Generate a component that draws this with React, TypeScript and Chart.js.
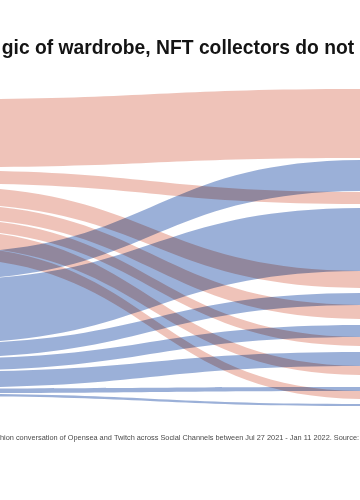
import React, { useEffect, useRef } from 'react';
import { Chart, registerables } from 'chart.js';

Chart.register(...registerables);

const TITLE = 'gic of wardrobe, NFT collectors do not';
const FOOTNOTE =
  'hion conversation of Opensea and Twitch across Social Channels between Jul 27 2021 - Jan 11 2022. Source:';

// Each link: source channel, stacked extent at the left node and at the right node (volume units)
const linkSource = [
  'Opensea', 'Opensea', 'Opensea', 'Opensea', 'Opensea', 'Opensea', 'Opensea',
  'Twitch', 'Twitch', 'Twitch', 'Twitch', 'Twitch', 'Twitch', 'Twitch',
];
const leftTop = [19.3, 90.3, 106.5, 124, 138.4, 149.9, 166, 172.8, 199.6, 263.5, 278.5, 291.6, 308.5, 313.7];
const leftBottom = [87.3, 103.4, 123.5, 138, 149.5, 166, 177.8, 199.7, 263.2, 277.6, 290.5, 307.6, 313.1, 316.2];
const rightTop = [9, 112, 191, 225, 257, 286, 311, 80, 128, 213, 245, 272, 307, 324];
const rightBottom = [78, 124, 208, 239, 266, 295, 319, 111, 191, 225, 257, 286, 311, 326];

// left / right node positions on the horizontal (flow) axis
const nodeX = [-0.1667, 1.0139];

const sourceColors: Record<string, string> = {
  Opensea: 'rgb(239,195,185)',
  Twitch: 'rgb(155,176,216)',
};

const ribbonPlugin = {
  id: 'ribbons',
  beforeDraw(chart: any) {
    const { ctx } = chart;
    ctx.save();
    ctx.fillStyle = '#ffffff';
    ctx.fillRect(0, 0, chart.width, chart.height);
    ctx.restore();
  },
  afterDatasetsDraw(chart: any) {
    const { ctx } = chart;
    const xs = chart.scales.x;
    const ys = chart.scales.y;
    const xL = xs.getPixelForValue(nodeX[0]);
    const xR = xs.getPixelForValue(nodeX[1]);
    const xm = (xL + xR) / 2;
    ctx.save();
    ctx.globalCompositeOperation = 'multiply';
    linkSource.forEach((src, i) => {
      const lt = ys.getPixelForValue(leftTop[i]);
      const lb = ys.getPixelForValue(leftBottom[i]);
      const rt = ys.getPixelForValue(rightTop[i]);
      const rb = ys.getPixelForValue(rightBottom[i]);
      ctx.beginPath();
      ctx.moveTo(xL, lt);
      ctx.bezierCurveTo(xm, lt, xm, rt, xR, rt);
      ctx.lineTo(xR, rb);
      ctx.bezierCurveTo(xm, rb, xm, lb, xL, lb);
      ctx.closePath();
      ctx.fillStyle = sourceColors[src];
      ctx.fill();
    });
    ctx.restore();

    ctx.save();
    ctx.fillStyle = '#141414';
    ctx.font = 'bold 19.3px "Liberation Sans", Arial, sans-serif';
    ctx.textAlign = 'center';
    ctx.textBaseline = 'alphabetic';
    ctx.fillText(TITLE, 178, 54);
    ctx.fillStyle = '#4a4a4a';
    ctx.font = '7.35px "Liberation Sans", Arial, sans-serif';
    ctx.textAlign = 'left';
    ctx.fillText(FOOTNOTE, 0, 440);
    ctx.restore();
  },
};

export default function App() {
  const ref = useRef<HTMLCanvasElement>(null);
  useEffect(() => {
    if (!ref.current) return;
    const chart = new Chart(ref.current, {
      type: 'scatter',
      data: { datasets: [{ data: [] }] },
      options: {
        animation: false,
        responsive: false,
        events: [],
        layout: { padding: { top: 80, bottom: 80, left: 0, right: 0 } },
        plugins: { legend: { display: false }, tooltip: { enabled: false }, title: { display: false } },
        scales: {
          x: { type: 'linear', min: 0, max: 1, display: false },
          y: { type: 'linear', min: 0, max: 340, reverse: true, display: false },
        },
      },
      plugins: [ribbonPlugin],
    } as any);
    return () => chart.destroy();
  }, []);
  return (
    <div style={{ position: 'absolute', left: 0, top: 0, width: 360, height: 500, overflow: 'hidden', background: '#fff' }}>
      <canvas ref={ref} width={360} height={500} style={{ display: 'block' }} />
    </div>
  );
}
